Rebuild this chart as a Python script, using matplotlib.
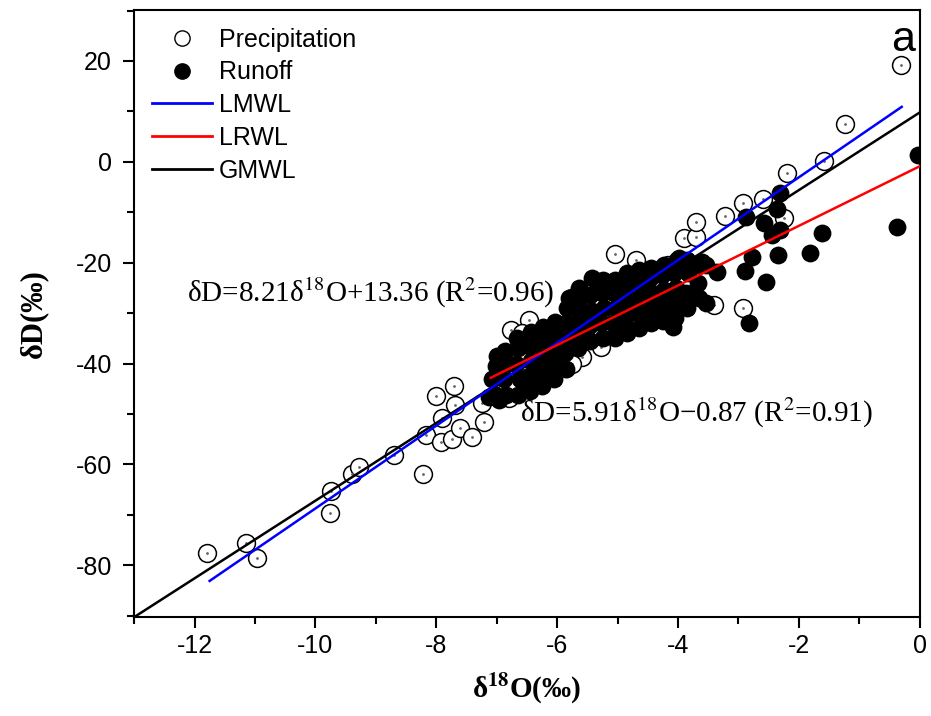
import matplotlib.pyplot as plt
from matplotlib.lines import Line2D

plt.rcParams['font.family'] = 'Liberation Sans'
plt.rcParams['mathtext.fontset'] = 'stix'
plt.rcParams['axes.unicode_minus'] = False

# Precipitation samples (d18O, dD)
precip_x = [-11.79, -11.14, -10.96, -9.75, -9.76, -9.40, -9.28, -8.70, -8.22, -8.17,
            -8.01, -7.71, -7.91, -7.69, -7.92, -7.74, -7.61, -7.41, -7.24, -7.21,
            -6.80, -6.46, -6.76, -6.58, -5.59, -5.27, -5.85, -5.04, -4.69, -4.81,
            -4.16, -3.90, -3.70, -3.70, -3.22, -2.93, -2.60, -2.24, -2.20, -1.59,
            -1.23, -0.31, -3.40, -2.92, -5.75, -6.20, -4.60]
precip_y = [-77.6, -75.6, -78.6, -65.3, -69.6, -61.9, -60.5, -58.1, -61.9, -54.2,
            -46.4, -44.4, -50.8, -48.2, -55.6, -55.0, -52.8, -54.6, -47.8, -51.6,
            -46.8, -31.3, -33.3, -33.9, -38.7, -36.7, -40.9, -18.3, -19.4, -22.4,
            -20.4, -15.1, -14.9, -11.9, -10.7, -8.1, -7.3, -11.1, -2.2, 0.2,
            7.5, 19.2, -28.4, -29.0, -40.0, -36.0, -28.0]

# Runoff samples (d18O, dD)
runoff_x = [-7.05, -7.08, -7.02, -7.00,
            -6.85, -6.88, -6.83, -6.86,
            -6.65, -6.62, -6.68, -6.64, -6.66,
            -6.45, -6.47, -6.43, -6.46, -6.44,
            -6.25, -6.27, -6.23, -6.26, -6.24,
            -6.05, -6.07, -6.03, -6.06, -6.04,
            -5.85, -5.87, -5.83, -5.86, -5.84, -5.80,
            -5.65, -5.67, -5.63, -5.66, -5.64,
            -5.45, -5.47, -5.43, -5.46, -5.42,
            -5.25, -5.27, -5.23, -5.26, -5.24,
            -5.05, -5.07, -5.03, -5.06, -5.04,
            -4.85, -4.87, -4.83, -4.86, -4.84,
            -4.65, -4.67, -4.63, -4.66, -4.64,
            -4.45, -4.47, -4.43, -4.46, -4.44,
            -4.25, -4.27, -4.23, -4.26, -4.24,
            -4.05, -4.07, -4.03, -4.06, -4.02,
            -3.85, -3.87, -3.83, -3.86,
            -3.65, -3.67, -3.63,
            -0.03, -0.38, -1.62, -1.81, -2.32, -2.37, -2.57, -2.32, -2.44, -2.87,
            -2.35, -2.78, -2.90, -2.55, -3.53, -2.82, -3.35, -3.61, -3.99, -3.53,
            -4.11, -4.09, -4.43, -4.26, -4.86, -5.06, -5.75, -5.34, -7.13, -6.96]
runoff_y = [-46.0, -43.0, -40.5, -38.5,
            -46.2, -43.0, -40.0, -37.5,
            -46.3, -43.0, -40.0, -37.0, -35.0,
            -45.5, -42.5, -39.5, -36.5, -33.8,
            -44.5, -41.5, -38.5, -35.5, -32.8,
            -43.0, -40.0, -37.0, -34.0, -31.8,
            -41.0, -38.0, -35.0, -32.0, -29.0, -27.0,
            -37.0, -34.0, -31.0, -28.0, -25.0,
            -35.5, -32.5, -29.5, -26.5, -23.0,
            -35.0, -32.0, -29.0, -26.0, -23.5,
            -35.0, -32.0, -29.0, -26.0, -23.5,
            -34.0, -31.0, -28.0, -25.0, -22.0,
            -33.0, -30.0, -27.0, -24.0, -21.5,
            -32.0, -29.0, -26.0, -23.0, -21.0,
            -31.5, -28.5, -25.5, -22.5, -20.5,
            -31.0, -28.0, -25.0, -22.0, -19.5,
            -29.0, -26.0, -22.0, -19.5,
            -27.0, -24.0, -20.5,
            1.4, -12.9, -14.1, -18.1, -6.2, -9.3, -12.1, -13.5, -14.5, -10.9,
            -18.5, -18.8, -21.6, -23.8, -28.0, -31.9, -21.8, -19.8, -19.0, -20.4,
            -31.0, -32.7, -31.0, -27.8, -33.3, -34.7, -26.8, -23.6, -46.6, -47.2]

# Water lines: slope, intercept, x range
lmwl = (8.21, 13.36, -11.75, -0.3)
lrwl = (5.91, -0.87, -7.1, 0.0)
gmwl = (7.7, 9.8, -13.0, 0.0)

fig = plt.figure(figsize=(9.31, 7.16), dpi=100)
ax = fig.add_axes([0.144, 0.138, 0.844, 0.848])

ax.scatter(precip_x, precip_y, s=165, facecolors='white', edgecolors='black',
           linewidths=1.1, zorder=2)
ax.scatter(precip_x, precip_y, s=1, color='0.4', zorder=2.5)
ax.scatter(runoff_x, runoff_y, s=165, color='black', linewidths=0, zorder=3)

for (k, b, x0, x1), c in [(gmwl, 'black'), (lmwl, 'blue'), (lrwl, 'red')]:
    ax.plot([x0, x1], [k * x0 + b, k * x1 + b], color=c, lw=1.8, zorder=4)

ax.text(-12.13, -26, 'δD=8.21δ$^{18}$O+13.36 (R$^{2}$=0.96)',
        fontsize=21, family='Liberation Serif', va='center', zorder=5)
ax.text(-6.61, -49.8, 'δD=5.91δ$^{18}$O\u22120.87 (R$^{2}$=0.91)',
        fontsize=21, family='Liberation Serif', va='center', zorder=5)
ax.text(-0.08, 24.2, 'a', fontsize=31, ha='right', va='center')

ax.set_xlim(-13, 0)
ax.set_ylim(-90.3, 30.1)
ax.set_xticks(range(-12, 1, 2))
ax.set_xticks(range(-13, 1, 1), minor=True)
ax.set_yticks(range(-80, 21, 20))
ax.set_yticks(range(-90, 31, 10), minor=True)
ax.tick_params(which='both', direction='out', width=1.5, labelsize=18)
ax.tick_params(which='major', length=8)
ax.tick_params(which='minor', length=5)
ax.tick_params(axis='y', pad=8)
ax.tick_params(axis='x', pad=4)
for s in ax.spines.values():
    s.set_linewidth(1.5)

ax.set_xlabel('δ$^{\\mathbf{18}}$O(‰)', fontsize=21, fontweight='bold',
              family='Liberation Serif', labelpad=10)
ax.set_ylabel('δD(‰)', fontsize=22, fontweight='bold',
              family='Liberation Serif', labelpad=20)

handles = [
    Line2D([], [], ls='none', marker='o', ms=11, mfc='white', mec='black', mew=1.0),
    Line2D([], [], ls='none', marker='o', ms=11, color='black'),
    Line2D([], [], color='blue', lw=2),
    Line2D([], [], color='red', lw=2),
    Line2D([], [], color='black', lw=2),
]
ax.legend(handles, ['Precipitation', 'Runoff', 'LMWL', 'LRWL', 'GMWL'],
          loc='upper left', frameon=False, fontsize=18, handlelength=2.4,
          handletextpad=0.3, labelspacing=0.35, borderaxespad=0.3)

fig.savefig('out.png', dpi=100)
